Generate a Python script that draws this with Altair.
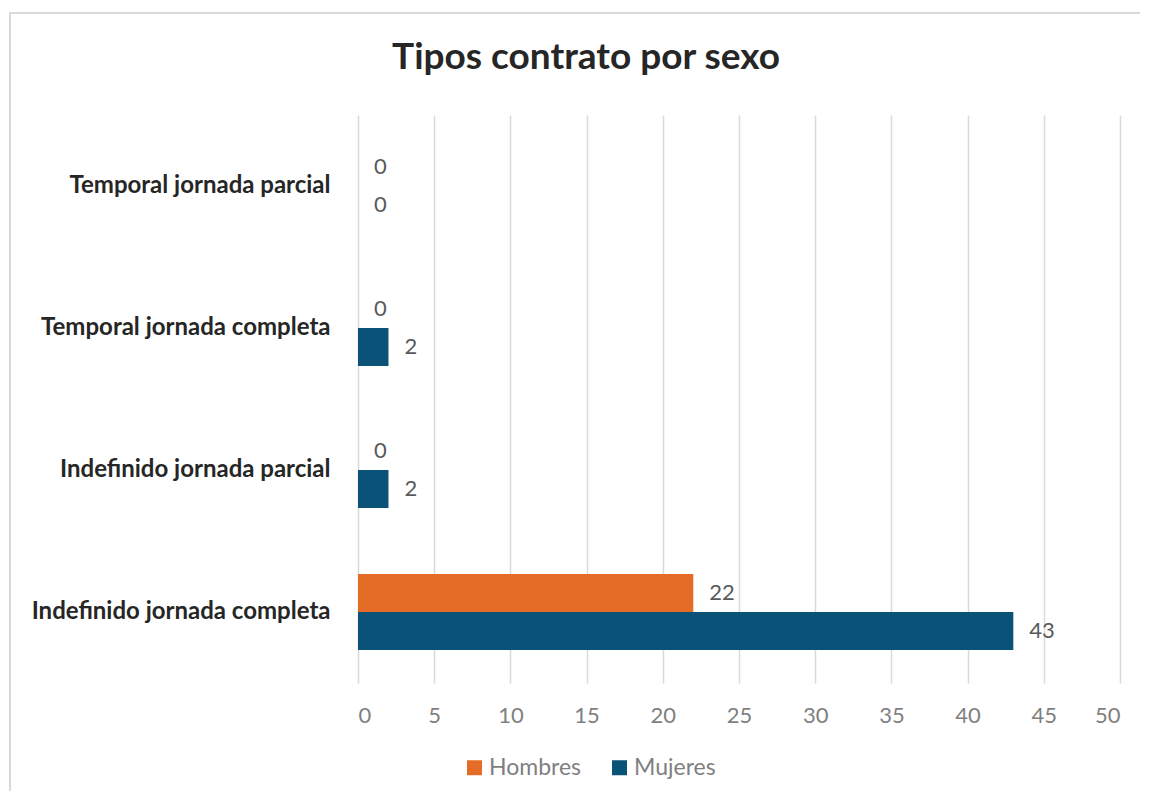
import altair as alt
import pandas as pd

categorias = ["Temporal jornada parcial", "Temporal jornada completa",
              "Indefinido jornada parcial", "Indefinido jornada completa"]
hombres = [0, 0, 0, 22]
mujeres = [0, 2, 2, 43]
series = ["Hombres", "Mujeres"]
colores = ["#E46C24", "#0A5278"]
ticks = [0, 5, 10, 15, 20, 25, 30, 35, 40, 45, 50]

rows = []
for c, h, m in zip(categorias, hombres, mujeres):
    rows.append({"categoria": c, "sexo": "Hombres", "valor": h})
    rows.append({"categoria": c, "sexo": "Mujeres", "valor": m})
df = pd.DataFrame(rows)

W, H = 762, 568
FONT = "Lato"

y = alt.Y("categoria:N", sort=categorias,
          scale=alt.Scale(paddingInner=0.465, paddingOuter=0.2325),
          axis=alt.Axis(title=None, ticks=False, domain=False, grid=False,
                        labelFontWeight="bold", labelFontSize=24, labelColor="#262626",
                        labelPadding=28, labelLimit=400, labelFont=FONT))
x = alt.X("valor:Q", scale=alt.Scale(domain=[0, 50], nice=False),
          axis=alt.Axis(values=ticks, title=None, grid=True, gridColor="#d9d9d9",
                        gridWidth=1.5, domain=False, ticks=False, labelFontSize=22,
                        labelColor="#7f7f7f", labelPadding=22, labelFont=FONT))
yoff = alt.YOffset("sexo:N", sort=series, scale=alt.Scale(paddingInner=0, paddingOuter=0))
color = alt.Color("sexo:N", sort=series,
                  scale=alt.Scale(domain=series, range=colores),
                  legend=alt.Legend(title=None, orient="none", legendX=105, legendY=641,
                                    direction="horizontal", symbolType="square",
                                    symbolSize=225, symbolStrokeWidth=0,
                                    labelFontSize=23, labelColor="#7f7f7f",
                                    labelFont=FONT, columnPadding=26,
                                    labelOffset=3))

base = alt.Chart(df)
bars = base.mark_bar().encode(y=y, x=x, yOffset=yoff, color=color)
labels = base.mark_text(align="left", baseline="middle", dx=16, fontSize=22,
                        color="#595959", font=FONT).encode(
    y=y, x=x, yOffset=yoff, text=alt.Text("valor:Q"))

border = alt.Chart(pd.DataFrame({"a": [0]})).mark_rect(
    fill=None, stroke="#d9d9d9", strokeWidth=2).encode(
    x=alt.value(-348), x2=alt.value(820), y=alt.value(-102), y2=alt.value(720))

chart = alt.layer(border, bars, labels).properties(
    width=W, height=H,
    title=alt.TitleParams("Tipos contrato por sexo", fontSize=37, font=FONT,
                          fontWeight="bold", color="#262626", anchor="middle",
                          frame="group", dx=-153, offset=35, dy=100),
    autosize=alt.AutoSizeParams(type="none"),
    padding={"left": 350, "top": 107, "right": 20, "bottom": 108},
).configure_view(stroke=None)

chart.save("out.html", embed_options={"renderer": "svg", "actions": False})
